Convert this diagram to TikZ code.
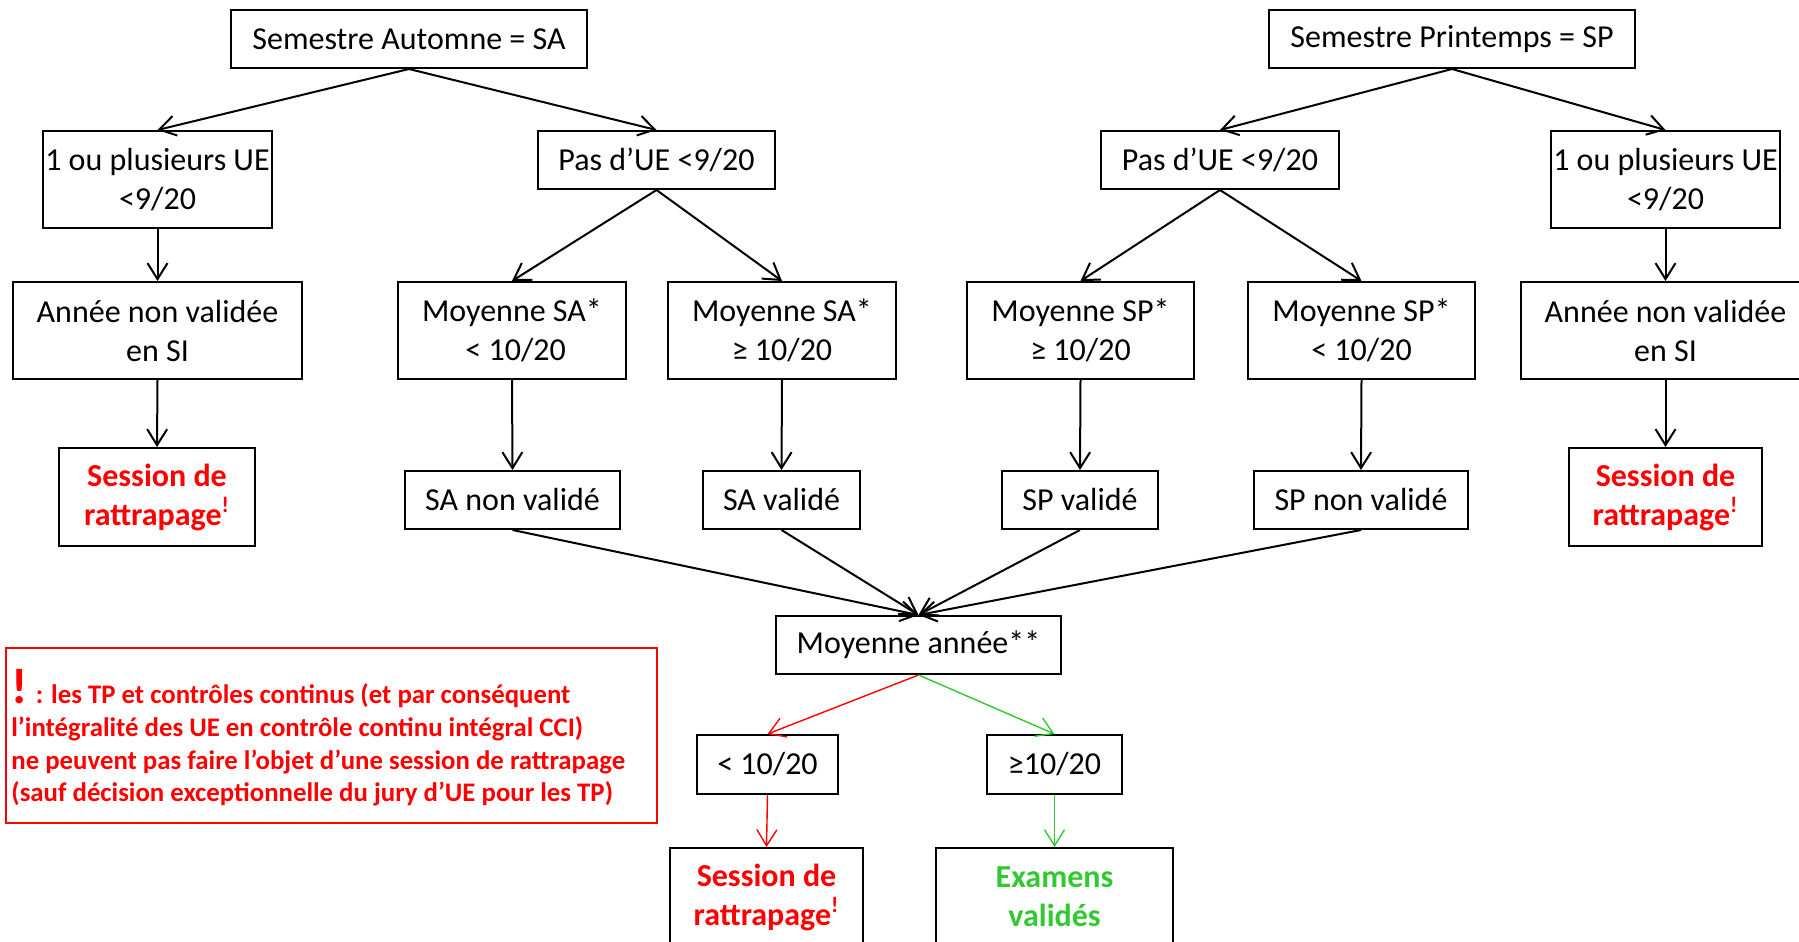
\documentclass[tikz,border=0pt]{standalone}
\usepackage{fontspec}
\setmainfont{Carlito}
\usetikzlibrary{arrows.meta}
\definecolor{myred}{RGB}{255,0,0}
\definecolor{mygreen}{RGB}{50,200,50}
\newcommand\myexcl{\textsuperscript{!}}
\begin{document}
\begin{tikzpicture}[x=0.5pt,y=-0.5pt,
  box/.style={draw, line width=1pt, inner sep=0pt, align=center, font=\fontsize{16}{19.5}\selectfont},
  boxs/.style={box, minimum height=29pt},
  boxt/.style={box, minimum height=48.5pt},
  redtxt/.style={text=myred, font=\bfseries\fontsize{16}{19.5}\selectfont},
  grntxt/.style={text=mygreen, font=\bfseries\fontsize{16}{19.5}\selectfont},
  arr/.style={line width=1pt, -{Straight Barb[length=8pt,width=10pt]}},
  rarr/.style={draw=myred, line width=0.7pt, -{Straight Barb[length=8pt,width=10pt]}},
  garr/.style={draw=mygreen, line width=0.7pt, -{Straight Barb[length=8pt,width=10pt]}}
]
\useasboundingbox (0,0) rectangle (1799,942);
% level 0
\node[boxs, minimum width=178pt] (sa) at (409,39) {Semestre Automne = SA};
\node[boxs, minimum width=183pt] (sp) at (1452,39) {Semestre Printemps = SP};
% level 1
\node[boxt, minimum width=114.5pt] (ul) at (157.5,179.5) {1 ou plusieurs UE\\<9/20};
\node[boxs, minimum width=118.5pt] (pl) at (656.5,160) {Pas d’UE <9/20};
\node[boxs, minimum width=119pt] (pr) at (1220,160) {Pas d’UE <9/20};
\node[boxt, minimum width=114.5pt] (ur) at (1665.5,179.5) {1 ou plusieurs UE\\<9/20};
% level 2
\node[boxt, minimum width=144.5pt] (al) at (157.5,330.5) {Année non validée\\en SI};
\node[boxt, minimum width=114pt] (msal) at (512,330.5) {Moyenne SA*\\\ < 10/20};
\node[boxt, minimum width=114pt] (msag) at (782,330.5) {Moyenne SA*\\≥ 10/20};
\node[boxt, minimum width=113.5pt] (mspg) at (1080.5,330.5) {Moyenne SP*\\≥ 10/20};
\node[boxt, minimum width=113.5pt] (mspl) at (1361.5,330.5) {Moyenne SP*\\< 10/20};
\node[boxt, minimum width=144.5pt] (ar) at (1665.5,330.5) {Année non validée\\en SI};
% level 3
\node[box, redtxt, minimum width=98pt, minimum height=49pt] (sl) at (157,497) {Session de\\rattrapage\myexcl};
\node[boxs, minimum width=107.5pt] (sanv) at (512.5,500) {SA non validé};
\node[boxs, minimum width=78.5pt] (sav) at (781.5,500) {SA validé};
\node[boxs, minimum width=78pt] (spv) at (1080,500) {SP validé};
\node[boxs, minimum width=107pt] (spnv) at (1361,500) {SP non validé};
\node[box, redtxt, minimum width=96.5pt, minimum height=49pt] (sr) at (1665.5,497) {Session de\\rattrapage\myexcl};
% level 4
\node[boxs, minimum width=142.5pt] (ma) at (918.5,645) {Moyenne année**};
\node[box, minimum width=70.5pt, minimum height=29.5pt] (lt) at (767.5,764.5) {< 10/20};
\node[box, minimum width=67.5pt, minimum height=29.5pt] (ge) at (1054.5,764.5) {≥10/20};
\node[box, redtxt, minimum width=96.5pt, minimum height=49pt] (sb) at (766.5,897) {Session de\\rattrapage\myexcl};
\node[box, grntxt, minimum width=118.5pt, minimum height=49pt] (ev) at (1054.5,897) {Examens\\validés};
% note
\node[draw=myred, line width=0.8pt, minimum width=325.5pt, minimum height=87.5pt, inner sep=0pt] (note) at (331.5,735.5) {};
\node[anchor=north west, align=left, inner sep=0pt, text=myred, font=\bfseries\fontsize{13.4}{16.4}\selectfont] (notetext) at (11,669)
  {{\fontsize{25}{25}\selectfont !} : les TP et contrôles continus (et par conséquent\\
   l’intégralité des UE en contrôle continu intégral CCI)\\
   ne peuvent pas faire l’objet d’une session de rattrapage\\
   (sauf décision exceptionnelle du jury d’UE pour les TP)};
% connectors
\draw[arr] (sa.south) -- (ul.north);
\draw[arr] (sa.south) -- (pl.north);
\draw[arr] (sp.south) -- (pr.north);
\draw[arr] (sp.south) -- (ur.north);
\draw[arr] (ul.south) -- (al.north);
\draw[arr] (ur.south) -- (ar.north);
\draw[arr] (pl.south) -- (msal.north);
\draw[arr] (pl.south) -- (msag.north);
\draw[arr] (pr.south) -- (mspg.north);
\draw[arr] (pr.south) -- (mspl.north);
\draw[arr] (al.south) -- (sl.north);
\draw[arr] (ar.south) -- (sr.north);
\draw[arr] (msal.south) -- (sanv.north);
\draw[arr] (msag.south) -- (sav.north);
\draw[arr] (mspg.south) -- (spv.north);
\draw[arr] (mspl.south) -- (spnv.north);
\draw[arr] (sanv.south) -- (ma.north);
\draw[arr] (sav.south) -- (ma.north);
\draw[arr] (spv.south) -- (ma.north);
\draw[arr] (spnv.south) -- (ma.north);
\draw[rarr] (ma.south) -- (lt.north);
\draw[garr] (ma.south) -- (ge.north);
\draw[rarr] (lt.south) -- (sb.north);
\draw[garr] (ge.south) -- (ev.north);
\end{tikzpicture}
\end{document}
